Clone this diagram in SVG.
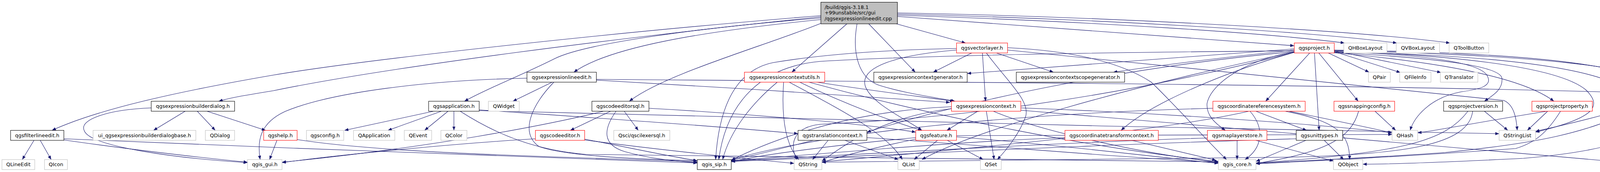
<svg xmlns="http://www.w3.org/2000/svg" width="4308" height="440" viewBox="0 0 4308 440">
<defs>
<marker id="a" viewBox="0 0 10 8" refX="10" refY="4" markerWidth="10" markerHeight="8" markerUnits="userSpaceOnUse" orient="auto"><path d="M0,0 L10,4 L0,8 z" fill="#191970"/></marker>
<style>
.node rect{fill:#fff;stroke-width:1.1}
.blk rect{stroke:#000}
.red rect{stroke:#ff0000}
.gry rect{stroke:#bfbfbf}
.top rect{fill:#bfbfbf;stroke:#000}
text{font-family:"DejaVu Sans","Liberation Sans",sans-serif;font-size:12.9px;fill:#000}
.node text{text-anchor:middle}
.top text{text-anchor:start}
.e{fill:none;stroke:#191970;stroke-width:1.1;marker-end:url(#a)}
</style>
</defs>
<rect width="4308" height="440" fill="#fff"/>
<g id="edges">
<path class="e" d="M2101,40 C1600,80 950,150 700,192 C450,235 250,280 133,333.5"/>
<path class="e" d="M2101,43 C1600,95 1000,170 700,232 C620,245 590,250 560,259"/>
<path class="e" d="M2101,46 C1800,70 1500,110 1420,150 C1330,195 1250,225 1189,259"/>
<path class="e" d="M2101,50 C1800,80 1560,120 1469,184.7"/>
<path class="e" d="M2101,60 C1950,120 1700,190 1611,259"/>
<path class="e" d="M2168,61 L2027,184.7"/>
<path class="e" d="M2194,61 C2180,140 2200,200 2250,218 C2320,240 2390,248 2445,259"/>
<path class="e" d="M2224,61 L2343,184.7"/>
<path class="e" d="M2295,61 L2472,110"/>
<path class="e" d="M2297,42 L3313,117"/>
<path class="e" d="M2297,39 C2800,55 3250,85 3442,110"/>
<path class="e" d="M2297,36 C2800,48 3350,80 3576,110"/>
<path class="e" d="M2297,33 C2800,42 3450,75 3712,110"/>
<path class="e" d="M474,284.5 L393,333.5"/>
<path class="e" d="M505,284.5 L551,333.5"/>
<path class="e" d="M530,284.5 L680,333.5"/>
<path class="e" d="M387,276 C280,280 200,305 216,335 C232,375 450,405 633.6,416"/>
<path class="e" d="M87,359 L57,408.3"/>
<path class="e" d="M103,359 L131,408.3"/>
<path class="e" d="M163.5,358 C300,378 500,402 633.6,415"/>
<path class="e" d="M163.5,355 C700,378 1300,400 1785,417"/>
<path class="e" d="M709,359 L690,408.3"/>
<path class="e" d="M760.6,357 C1000,395 1500,402 1785,414"/>
<path class="e" d="M1414,210 L1313,259"/>
<path class="e" d="M1349,200 C1100,205 850,235 730,285 C665,315 658,360 666,408.3"/>
<path class="e" d="M1418,210 C1360,270 1330,340 1380,375 C1450,400 1650,408 1785,411"/>
<path class="e" d="M1526.7,205 C1800,220 2200,245 2432,262"/>
<path class="e" d="M1526.7,203 C2500,210 3500,218 4100,235 C4240,240 4265,300 4260,408.3"/>
<path class="e" d="M1110,284.5 L882,333.5"/>
<path class="e" d="M1130,284.5 L993,333.5"/>
<path class="e" d="M1147,284.5 L1087,333.5"/>
<path class="e" d="M1162,284.5 L1162,333.5"/>
<path class="e" d="M1178,284.5 C1280,350 1380,385 1500,395 C2000,402 2800,408 3119,414"/>
<path class="e" d="M1226.7,281 C1500,300 1800,320 2043,342"/>
<path class="e" d="M1226.7,283 C1800,300 3000,328 3837.7,342"/>
<path class="e" d="M1563,284.5 L1460,333.5"/>
<path class="e" d="M1598,284.5 L1634,333.5"/>
<path class="e" d="M1545,284.5 C1400,320 1100,378 722,415"/>
<path class="e" d="M1577,284.5 C1545,330 1540,370 1600,388 C1660,405 1720,412 1785,416"/>
<path class="e" d="M1661.3,277 C1900,290 2200,315 2344.3,338"/>
<path class="e" d="M1370.7,355 C1200,365 900,392 722,416"/>
<path class="e" d="M1496.7,356 C1600,375 1700,398 1785,411"/>
<path class="e" d="M1496.7,358 C1700,385 1900,405 2033,418"/>
<path class="e" d="M1990,210 C1930,260 1870,330 1850,408.3"/>
<path class="e" d="M2006,210 C2000,300 2010,370 2045,408.3"/>
<path class="e" d="M2020,210 C2150,280 2270,340 2310,408.3"/>
<path class="e" d="M2047,210 C2150,260 2280,310 2360,333.5"/>
<path class="e" d="M2090,210 C2250,235 2380,250 2442,259"/>
<path class="e" d="M2070,210 C2400,300 2800,380 3119,413"/>
<path class="e" d="M2503,284.5 L2424,333.5"/>
<path class="e" d="M2525,284.5 L2545,408.3"/>
<path class="e" d="M2435.7,273 C2150,285 1950,370 1872,410"/>
<path class="e" d="M2435.7,278 C2250,300 2150,380 2104,412"/>
<path class="e" d="M2543,284.5 C2650,330 2900,390 3119,415"/>
<path class="e" d="M2613.3,276 C3000,290 3400,320 3563.7,340"/>
<path class="e" d="M2613.3,282 C3200,330 3900,395 4210.8,420"/>
<path class="e" d="M2400,359 L2340,408.3"/>
<path class="e" d="M2425,359 L2517,408.3"/>
<path class="e" d="M2344.3,352 C2150,370 1950,395 1872,414"/>
<path class="e" d="M2344.3,356 C2250,375 2150,400 2104,416"/>
<path class="e" d="M2448.7,350 C2700,370 2950,400 3119,418"/>
<path class="e" d="M2448.7,347 C2900,345 3300,342 3563.7,344"/>
<path class="e" d="M2120,359 L2080,408.3"/>
<path class="e" d="M2163,359 L2300,408.3"/>
<path class="e" d="M2082,359 C2000,380 1920,400 1872,410"/>
<path class="e" d="M2219.3,352 C2500,370 2900,405 3119,416"/>
<path class="e" d="M2488,135.3 L2389,184.7"/>
<path class="e" d="M2515,135.3 L2523,259"/>
<path class="e" d="M2525,135.3 C2580,210 2640,260 2625,300 C2610,340 2580,380 2553,408.3"/>
<path class="e" d="M2550,135.3 L2697,184.7"/>
<path class="e" d="M2448.7,128 C2300,140 2200,170 2215,220 C2230,265 2320,305 2360,333.5"/>
<path class="e" d="M2448.7,124 C2250,128 2100,140 1980,160 C1880,180 1840,280 1832,408.3"/>
<path class="e" d="M2579.3,122 C2750,130 2870,160 2947,210 C3000,260 3090,360 3140,408.3"/>
<path class="e" d="M2579.3,128 C3000,170 3600,230 3850,257 C3875,268 3882,300 3884,333.5"/>
<path class="e" d="M3313.3,125 C3000,150 2700,170 2476,188"/>
<path class="e" d="M3313.3,128 C3100,150 2950,170 2850,184.7"/>
<path class="e" d="M3313.3,130 C2700,135 2300,145 2100,157 C1950,170 1860,260 1840,408.3"/>
<path class="e" d="M3313.3,132 C2900,170 2500,250 2219.3,338"/>
<path class="e" d="M3313.3,133 C2900,220 2500,330 2360,408.3"/>
<path class="e" d="M3313.3,134 C3150,180 2950,260 2870,333.5"/>
<path class="e" d="M3313.3,133 C3200,150 3100,210 3090,265 C3088,295 3110,315 3137,333.5"/>
<path class="e" d="M3313.3,134 C2900,240 2500,300 2100,318 C2030,325 2020,370 2040,408.3"/>
<path class="e" d="M3353,135.3 L3240,259"/>
<path class="e" d="M3365,135.3 L3377,333.5"/>
<path class="e" d="M3376,135.3 L3477,259"/>
<path class="e" d="M3400,135.3 L3505,184.7"/>
<path class="e" d="M3415.7,132 L3585,185.5"/>
<path class="e" d="M3415.7,130 L3689,185.5"/>
<path class="e" d="M3415.7,132 C3650,140 3780,160 3805,190 C3825,220 3790,228 3740,235 C3660,250 3620,300 3610,333.5"/>
<path class="e" d="M3415.7,134 C3700,150 3840,170 3845,200 C3848,230 3820,245 3800,259"/>
<path class="e" d="M3415.7,135 C3700,160 3900,200 3978,259"/>
<path class="e" d="M3415.7,133 C3800,140 4150,170 4193,259"/>
<path class="e" d="M3415.7,130 C3800,145 4000,180 4060,230 C4100,270 4090,300 3931,338"/>
<path class="e" d="M3415.7,129 C3900,140 4250,170 4268,230 C4285,320 4200,380 3900,405 C3700,415 3550,420 3488.7,420"/>
<path class="e" d="M3415.7,128 C3950,135 4260,170 4290,260 C4305,320 4290,370 4272,408.3"/>
<path class="e" d="M3200,284.5 C3240,330 3230,380 3187,408.3"/>
<path class="e" d="M3215,284.5 L3345,333.5"/>
<path class="e" d="M3290,284.5 C3420,310 3455,340 3455,408.3"/>
<path class="e" d="M3300,284.5 C3400,305 3500,325 3563.7,340"/>
<path class="e" d="M3105,277 C2600,290 2100,340 1872,409"/>
<path class="e" d="M3197,284.5 C3000,330 2600,370 2104,414"/>
<path class="e" d="M3520,284.5 L3573,333.5"/>
<path class="e" d="M3478,284.5 C3460,350 3400,390 3215.3,418"/>
<path class="e" d="M3800,284.5 L3860,333.5"/>
<path class="e" d="M3758,284.5 C3700,360 3600,390 3215.3,417"/>
<path class="e" d="M3770,284.5 C3760,370 3600,395 3300,402 C2800,410 2300,412 2104,415"/>
<path class="e" d="M3960,284.5 C3800,310 3700,330 3629.3,340"/>
<path class="e" d="M3962,284.5 L3910,333.5"/>
<path class="e" d="M3995,284.5 C3960,340 3930,365 3880,380 C3600,400 3400,410 3215.3,419"/>
<path class="e" d="M4152,281 C4050,310 3980,325 3931,336"/>
<path class="e" d="M4180,284.5 C4050,340 3950,365 3700,390 C3500,405 3300,412 3215.3,418"/>
<path class="e" d="M4210,284.5 L4245,408.3"/>
<path class="e" d="M3167,359 L3167,408.3"/>
<path class="e" d="M3215,359 L3413.7,412"/>
<path class="e" d="M3091,353 C2700,365 2200,395 1872,412"/>
<path class="e" d="M3343,359 L3215.3,413"/>
<path class="e" d="M3390,359 L3440,408.3"/>
<path class="e" d="M3318.3,355 C2800,370 2200,400 1872,413"/>
<path class="e" d="M2897,359 L3113,410"/>
<path class="e" d="M2726.3,352 C2400,365 2100,395 1872,411"/>
</g>
<g id="n_top" class="node top"><rect x="2101.4" y="5.7" width="196" height="55.3"/><text x="2111" y="23">/build/qgis-3.18.1</text><text x="2111" y="37.3">+99unstable/src/gui</text><text x="2111" y="51.6">/qgsexpressionlineedit.cpp</text></g>
<g id="n_vl" class="node red"><rect x="2448.7" y="110" width="130.6" height="25.5"/><text x="2514" y="127">qgsvectorlayer.h</text></g>
<g id="n_pr" class="node red"><rect x="3313.3" y="110" width="102.4" height="25.5"/><text x="3364.5" y="127">qgsproject.h</text></g>
<g id="n_qhb" class="node gry"><rect x="3440" y="110" width="110.7" height="25.5"/><text x="3495.3" y="127">QHBoxLayout</text></g>
<g id="n_qvb" class="node gry"><rect x="3574.3" y="110" width="111" height="25.5"/><text x="3629.8" y="127">QVBoxLayout</text></g>
<g id="n_qtb" class="node gry"><rect x="3709.7" y="110" width="101.6" height="25.5"/><text x="3760.5" y="127">QToolButton</text></g>
<g id="n_ele" class="node blk"><rect x="1349" y="184.7" width="177.7" height="25.5"/><text x="1437.8" y="201.7">qgsexpressionlineedit.h</text></g>
<g id="n_ecu" class="node red"><rect x="1905.7" y="184.7" width="205.6" height="25.5"/><text x="2008.5" y="201.7">qgsexpressioncontextutils.h</text></g>
<g id="n_ecg" class="node blk"><rect x="2237" y="184.7" width="239" height="25.5"/><text x="2356.5" y="201.7">qgsexpressioncontextgenerator.h</text></g>
<g id="n_ecsg" class="node blk"><rect x="2601.7" y="184.7" width="277.3" height="25.5"/><text x="2740.3" y="201.7">qgsexpressioncontextscopegenerator.h</text></g>
<g id="n_qpair" class="node gry"><rect x="3503.3" y="184.7" width="56" height="25.5"/><text x="3531.3" y="201.7">QPair</text></g>
<g id="n_qfi" class="node gry"><rect x="3583.3" y="184.7" width="80" height="25.5"/><text x="3623.3" y="201.7">QFileInfo</text></g>
<g id="n_qtr" class="node gry"><rect x="3687.3" y="184.7" width="96" height="25.5"/><text x="3735.3" y="201.7">QTranslator</text></g>
<g id="n_ebd" class="node blk"><rect x="387.1" y="259" width="213.5" height="25.5"/><text x="493.8" y="276">qgsexpressionbuilderdialog.h</text></g>
<g id="n_app" class="node blk"><rect x="1097.3" y="259" width="129.4" height="25.5"/><text x="1162" y="276">qgsapplication.h</text></g>
<g id="n_qw" class="node gry"><rect x="1250.3" y="259" width="79" height="25.5"/><text x="1289.8" y="276">QWidget</text></g>
<g id="n_ces" class="node blk"><rect x="1515.3" y="259" width="146" height="25.5"/><text x="1588.3" y="276">qgscodeeditorsql.h</text></g>
<g id="n_ec" class="node red"><rect x="2435.7" y="259" width="177.6" height="25.5"/><text x="2524.5" y="276">qgsexpressioncontext.h</text></g>
<g id="n_crs" class="node red"><rect x="3105" y="259" width="236.3" height="25.5"/><text x="3223.2" y="276">qgscoordinatereferencesystem.h</text></g>
<g id="n_snap" class="node red"><rect x="3415" y="259" width="155.3" height="25.5"/><text x="3492.7" y="276">qgssnappingconfig.h</text></g>
<g id="n_pv" class="node blk"><rect x="3695.7" y="259" width="151" height="25.5"/><text x="3771.2" y="276">qgsprojectversion.h</text></g>
<g id="n_pp" class="node red"><rect x="3921.7" y="259" width="154.7" height="25.5"/><text x="3999" y="276">qgsprojectproperty.h</text></g>
<g id="n_arc" class="node red"><rect x="4151.8" y="259" width="105.4" height="25.5"/><text x="4204.5" y="276">qgsarchive.h</text></g>
<g id="n_fle" class="node blk"><rect x="27.1" y="333.5" width="136.4" height="25.5"/><text x="95.3" y="350.5">qgsfilterlineedit.h</text></g>
<g id="n_ui" class="node gry"><rect x="238.3" y="333.5" width="263.1" height="25.5"/><text x="369.9" y="350.5">ui_qgsexpressionbuilderdialogbase.h</text></g>
<g id="n_qd" class="node gry"><rect x="525.7" y="333.5" width="74.9" height="25.5"/><text x="563.2" y="350.5">QDialog</text></g>
<g id="n_help" class="node red"><rect x="675" y="333.5" width="85.6" height="25.5"/><text x="717.8" y="350.5">qgshelp.h</text></g>
<g id="n_cfg" class="node gry"><rect x="784.5" y="333.5" width="95.5" height="25.5"/><text x="832.3" y="350.5">qgsconfig.h</text></g>
<g id="n_qapp" class="node gry"><rect x="905" y="333.5" width="105.7" height="25.5"/><text x="957.9" y="350.5">QApplication</text></g>
<g id="n_qev" class="node gry"><rect x="1035" y="333.5" width="70" height="25.5"/><text x="1070" y="350.5">QEvent</text></g>
<g id="n_qcol" class="node gry"><rect x="1128.7" y="333.5" width="66.6" height="25.5"/><text x="1162" y="350.5">QColor</text></g>
<g id="n_ce" class="node red"><rect x="1370.7" y="333.5" width="126" height="25.5"/><text x="1433.7" y="350.5">qgscodeeditor.h</text></g>
<g id="n_lex" class="node gry"><rect x="1571.3" y="333.5" width="143.4" height="25.5"/><text x="1643" y="350.5">Qsci/qscilexersql.h</text></g>
<g id="n_tc" class="node blk"><rect x="2043" y="333.5" width="176.3" height="25.5"/><text x="2131.2" y="350.5">qgstranslationcontext.h</text></g>
<g id="n_feat" class="node red"><rect x="2344.3" y="333.5" width="104.4" height="25.5"/><text x="2396.5" y="350.5">qgsfeature.h</text></g>
<g id="n_ctc" class="node red"><rect x="2726.3" y="333.5" width="239" height="25.5"/><text x="2845.8" y="350.5">qgscoordinatetransformcontext.h</text></g>
<g id="n_mls" class="node red"><rect x="3091" y="333.5" width="152.3" height="25.5"/><text x="3167.2" y="350.5">qgsmaplayerstore.h</text></g>
<g id="n_ut" class="node blk"><rect x="3318.3" y="333.5" width="119" height="25.5"/><text x="3377.8" y="350.5">qgsunittypes.h</text></g>
<g id="n_qh" class="node gry"><rect x="3563.7" y="333.5" width="65.6" height="25.5"/><text x="3596.5" y="350.5">QHash</text></g>
<g id="n_qsl" class="node gry"><rect x="3837.7" y="333.5" width="93.3" height="25.5"/><text x="3884.4" y="350.5">QStringList</text></g>
<g id="n_qle" class="node gry"><rect x="5" y="408.3" width="84" height="25.5"/><text x="47" y="425.3">QLineEdit</text></g>
<g id="n_qic" class="node gry"><rect x="113.9" y="408.3" width="58.7" height="25.5"/><text x="143.3" y="425.3">QIcon</text></g>
<g id="n_gui" class="node gry"><rect x="633.6" y="408.3" width="88.4" height="25.5"/><text x="677.8" y="425.3">qgis_gui.h</text></g>
<g id="n_sip" class="node blk"><rect x="1785" y="408.3" width="87" height="25.5"/><text x="1828.5" y="425.3">qgis_sip.h</text></g>
<g id="n_qs" class="node gry"><rect x="2033" y="408.3" width="71" height="25.5"/><text x="2068.5" y="425.3">QString</text></g>
<g id="n_ql" class="node gry"><rect x="2298.7" y="408.3" width="54.6" height="25.5"/><text x="2326" y="425.3">QList</text></g>
<g id="n_qset" class="node gry"><rect x="2510" y="408.3" width="53.3" height="25.5"/><text x="2536.7" y="425.3">QSet</text></g>
<g id="n_core" class="node gry"><rect x="3119" y="408.3" width="96.3" height="25.5"/><text x="3167.2" y="425.3">qgis_core.h</text></g>
<g id="n_qo" class="node gry"><rect x="3413.7" y="408.3" width="75" height="25.5"/><text x="3451.2" y="425.3">QObject</text></g>
<g id="n_mem" class="node gry"><rect x="4210.8" y="408.3" width="77.9" height="25.5"/><text x="4249.8" y="425.3">memory</text></g>
</svg>
